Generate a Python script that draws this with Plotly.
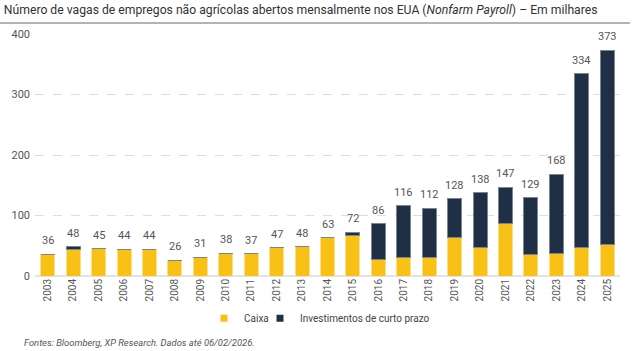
import plotly.graph_objects as go

years = [str(y) for y in range(2003, 2026)]
caixa = [36, 43, 45, 44, 44, 26, 31, 38, 37, 47, 48, 63, 67, 27, 31, 30, 64, 47, 87, 35, 37, 47, 52]
totals = [36, 48, 45, 44, 44, 26, 31, 38, 37, 47, 48, 63, 72, 86, 116, 112, 128, 138, 147, 129, 168, 334, 373]
invest = [t - c for t, c in zip(totals, caixa)]

YELLOW = "#F9C116"
NAVY = "#1F2F45"

fig = go.Figure()
fig.add_trace(go.Bar(x=years, y=caixa, name="Caixa", showlegend=False,
                     marker=dict(color=YELLOW, line=dict(color="#FBE08A", width=1))))
fig.add_trace(go.Bar(x=years, y=invest, name="Investimentos de curto prazo", showlegend=False,
                     marker=dict(color=NAVY, line=dict(color="#7A8595", width=1))))
# legend entries with small square symbols
fig.add_trace(go.Scatter(x=[None], y=[None], mode="markers", name="Caixa", legend="legend",
                         marker=dict(symbol="square", size=7, color=YELLOW)))
fig.add_trace(go.Scatter(x=[None], y=[None], mode="markers", name="Investimentos de curto prazo", legend="legend2",
                         marker=dict(symbol="square", size=7, color=NAVY)))

for i, t in enumerate(totals):
    fig.add_annotation(x=i, y=t, xref="x", yref="y", text=str(t), showarrow=False, yanchor="bottom", yshift=5,
                       font=dict(size=11, color="#555555"))

leg_common = dict(orientation="h", y=-0.175, yanchor="middle", xanchor="left",
                  font=dict(size=10, color="#444444"), itemwidth=30, bgcolor="rgba(0,0,0,0)")
fig.update_layout(
    barmode="stack",
    bargap=0.45,
    width=638, height=351,
    margin=dict(l=35, r=18, t=34, b=75),
    paper_bgcolor="white", plot_bgcolor="white",
    font=dict(family="Roboto, sans-serif", color="#555555"),
    title=dict(text="Número de vagas de empregos não agrícolas abertos mensalmente nos EUA (<i>Nonfarm Payroll</i>) – Em milhares",
               x=0.006, xanchor="left", y=0.972, yanchor="middle",
               font=dict(size=12.2, color="#333333", family="Roboto, sans-serif")),
    legend=dict(x=(204 - 35) / 585, **leg_common),
    legend2=dict(x=(260 - 35) / 585, **leg_common),
    showlegend=True,
)
fig.update_xaxes(range=[-0.5, 22.5], tickangle=-90, tickfont=dict(size=10, color="#555555"),
                 showgrid=False, showline=False, ticks="")
fig.update_yaxes(range=[0, 400], tickvals=[0, 100, 200, 300, 400], tickfont=dict(size=11, color="#555555"),
                 showgrid=True, gridcolor="#dddddd", griddash="dash", gridwidth=1,
                 zeroline=True, zerolinecolor="#e3e3e3", zerolinewidth=2, showline=False, ticks="",
                 ticklabelstandoff=4)

fig.add_shape(type="line", xref="paper", yref="paper", x0=-0.06, x1=1.017, y0=1.045, y1=1.045,
              line=dict(color="#9a9a9a", width=1.5))
fig.add_annotation(text="<i>Fontes: Bloomberg, XP Research. Dados até 06/02/2026.</i>", xref="paper", yref="paper",
                   x=-0.022, xanchor="left", y=-0.275, yanchor="middle", showarrow=False,
                   font=dict(size=9.4, color="#555555"))

fig.write_html("out.html")
